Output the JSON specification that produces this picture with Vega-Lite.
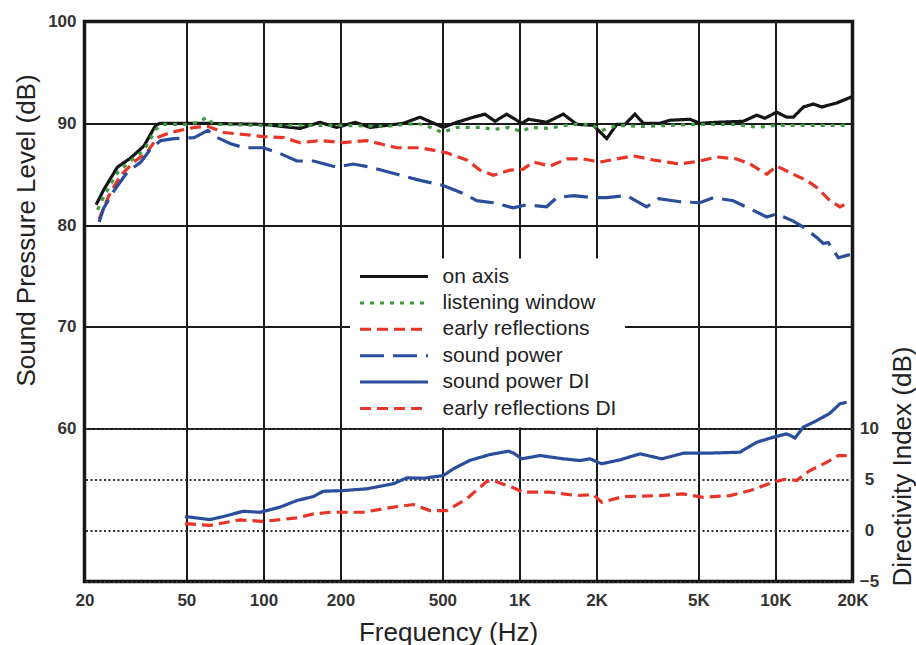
{
  "$schema": "https://vega.github.io/schema/vega-lite/v6.json",
  "width": 768,
  "height": 560,
  "autosize": {"type": "none"},
  "padding": {"left": 84.5, "top": 21.5, "right": 63.5, "bottom": 63.5},
  "background": "white",
  "config": {
    "font": "Liberation Sans",
    "view": {"stroke": "#111", "strokeWidth": 3.5},
    "axis": {"domain": false, "ticks": false, "tickSize": 0}
  },
  "datasets": {
    "spl": [
      {"series": "on axis", "freq": 22.2, "db": 82.0},
      {"series": "on axis", "freq": 23.8, "db": 83.5},
      {"series": "on axis", "freq": 26.9, "db": 85.7},
      {"series": "on axis", "freq": 30.3, "db": 86.6},
      {"series": "on axis", "freq": 34.2, "db": 87.8},
      {"series": "on axis", "freq": 37.9, "db": 89.8},
      {"series": "on axis", "freq": 39.4, "db": 90.0},
      {"series": "on axis", "freq": 49.4, "db": 90.0},
      {"series": "on axis", "freq": 59.1, "db": 90.0},
      {"series": "on axis", "freq": 99.6, "db": 89.9},
      {"series": "on axis", "freq": 139, "db": 89.5},
      {"series": "on axis", "freq": 166, "db": 90.1},
      {"series": "on axis", "freq": 193, "db": 89.6},
      {"series": "on axis", "freq": 228, "db": 90.1},
      {"series": "on axis", "freq": 261, "db": 89.6},
      {"series": "on axis", "freq": 352, "db": 90.0},
      {"series": "on axis", "freq": 409, "db": 90.6},
      {"series": "on axis", "freq": 504, "db": 89.6},
      {"series": "on axis", "freq": 569, "db": 90.1},
      {"series": "on axis", "freq": 661, "db": 90.6},
      {"series": "on axis", "freq": 733, "db": 90.9},
      {"series": "on axis", "freq": 803, "db": 90.2},
      {"series": "on axis", "freq": 891, "db": 90.9},
      {"series": "on axis", "freq": 1021, "db": 90.0},
      {"series": "on axis", "freq": 1084, "db": 90.4},
      {"series": "on axis", "freq": 1277, "db": 90.1},
      {"series": "on axis", "freq": 1483, "db": 90.9},
      {"series": "on axis", "freq": 1674, "db": 89.9},
      {"series": "on axis", "freq": 1944, "db": 89.8},
      {"series": "on axis", "freq": 2193, "db": 88.5},
      {"series": "on axis", "freq": 2400, "db": 89.9},
      {"series": "on axis", "freq": 2584, "db": 89.9},
      {"series": "on axis", "freq": 2826, "db": 90.9},
      {"series": "on axis", "freq": 3048, "db": 90.0},
      {"series": "on axis", "freq": 3540, "db": 90.0},
      {"series": "on axis", "freq": 3872, "db": 90.3},
      {"series": "on axis", "freq": 4634, "db": 90.4},
      {"series": "on axis", "freq": 5070, "db": 90.0},
      {"series": "on axis", "freq": 5902, "db": 90.1},
      {"series": "on axis", "freq": 7484, "db": 90.2},
      {"series": "on axis", "freq": 8450, "db": 90.8},
      {"series": "on axis", "freq": 9100, "db": 90.5},
      {"series": "on axis", "freq": 10116, "db": 91.1},
      {"series": "on axis", "freq": 11066, "db": 90.6},
      {"series": "on axis", "freq": 11744, "db": 90.6},
      {"series": "on axis", "freq": 12860, "db": 91.6},
      {"series": "on axis", "freq": 14060, "db": 91.9},
      {"series": "on axis", "freq": 15170, "db": 91.6},
      {"series": "on axis", "freq": 17340, "db": 92.0},
      {"series": "on axis", "freq": 19860, "db": 92.6},

      {"series": "listening window", "freq": 22.5, "db": 81.5},
      {"series": "listening window", "freq": 24, "db": 83.0},
      {"series": "listening window", "freq": 27, "db": 85.2},
      {"series": "listening window", "freq": 30.3, "db": 86.3},
      {"series": "listening window", "freq": 34.2, "db": 87.4},
      {"series": "listening window", "freq": 38, "db": 89.4},
      {"series": "listening window", "freq": 40, "db": 89.9},
      {"series": "listening window", "freq": 50, "db": 89.9},
      {"series": "listening window", "freq": 56, "db": 90.1},
      {"series": "listening window", "freq": 60, "db": 90.6},
      {"series": "listening window", "freq": 64, "db": 89.9},
      {"series": "listening window", "freq": 100, "db": 89.8},
      {"series": "listening window", "freq": 200, "db": 89.8},
      {"series": "listening window", "freq": 300, "db": 89.7},
      {"series": "listening window", "freq": 400, "db": 90.0},
      {"series": "listening window", "freq": 450, "db": 89.6},
      {"series": "listening window", "freq": 500, "db": 89.1},
      {"series": "listening window", "freq": 570, "db": 89.6},
      {"series": "listening window", "freq": 700, "db": 89.6},
      {"series": "listening window", "freq": 800, "db": 89.4},
      {"series": "listening window", "freq": 900, "db": 89.6},
      {"series": "listening window", "freq": 1020, "db": 89.2},
      {"series": "listening window", "freq": 1100, "db": 89.6},
      {"series": "listening window", "freq": 1300, "db": 89.5},
      {"series": "listening window", "freq": 1600, "db": 89.9},
      {"series": "listening window", "freq": 1900, "db": 89.9},
      {"series": "listening window", "freq": 2100, "db": 89.3},
      {"series": "listening window", "freq": 2400, "db": 89.8},
      {"series": "listening window", "freq": 3000, "db": 89.7},
      {"series": "listening window", "freq": 5000, "db": 89.9},
      {"series": "listening window", "freq": 7000, "db": 89.9},
      {"series": "listening window", "freq": 8500, "db": 89.6},
      {"series": "listening window", "freq": 10000, "db": 89.8},
      {"series": "listening window", "freq": 15000, "db": 89.8},
      {"series": "listening window", "freq": 19500, "db": 89.8},

      {"series": "early reflections", "freq": 22.8, "db": 80.6},
      {"series": "early reflections", "freq": 24.9, "db": 82.9},
      {"series": "early reflections", "freq": 27.7, "db": 84.9},
      {"series": "early reflections", "freq": 31.2, "db": 86.2},
      {"series": "early reflections", "freq": 35.2, "db": 87.2},
      {"series": "early reflections", "freq": 38.5, "db": 88.6},
      {"series": "early reflections", "freq": 43.4, "db": 89.1},
      {"series": "early reflections", "freq": 53.6, "db": 89.6},
      {"series": "early reflections", "freq": 60.7, "db": 89.7},
      {"series": "early reflections", "freq": 70.1, "db": 89.1},
      {"series": "early reflections", "freq": 84, "db": 88.9},
      {"series": "early reflections", "freq": 100, "db": 88.7},
      {"series": "early reflections", "freq": 120, "db": 88.6},
      {"series": "early reflections", "freq": 139, "db": 88.1},
      {"series": "early reflections", "freq": 166, "db": 88.3},
      {"series": "early reflections", "freq": 205, "db": 88.1},
      {"series": "early reflections", "freq": 253, "db": 88.3},
      {"series": "early reflections", "freq": 332, "db": 87.6},
      {"series": "early reflections", "freq": 409, "db": 87.6},
      {"series": "early reflections", "freq": 520, "db": 87.1},
      {"series": "early reflections", "freq": 622, "db": 86.4},
      {"series": "early reflections", "freq": 702, "db": 85.4},
      {"series": "early reflections", "freq": 790, "db": 84.9},
      {"series": "early reflections", "freq": 918, "db": 85.4},
      {"series": "early reflections", "freq": 1035, "db": 85.5},
      {"series": "early reflections", "freq": 1133, "db": 86.2},
      {"series": "early reflections", "freq": 1316, "db": 85.8},
      {"series": "early reflections", "freq": 1531, "db": 86.5},
      {"series": "early reflections", "freq": 1776, "db": 86.5},
      {"series": "early reflections", "freq": 2065, "db": 86.2},
      {"series": "early reflections", "freq": 2400, "db": 86.5},
      {"series": "early reflections", "freq": 2786, "db": 86.8},
      {"series": "early reflections", "freq": 3334, "db": 86.4},
      {"series": "early reflections", "freq": 4236, "db": 86.0},
      {"series": "early reflections", "freq": 5070, "db": 86.3},
      {"series": "early reflections", "freq": 5902, "db": 86.7},
      {"series": "early reflections", "freq": 7063, "db": 86.5},
      {"series": "early reflections", "freq": 7962, "db": 86.0},
      {"series": "early reflections", "freq": 9248, "db": 85.0},
      {"series": "early reflections", "freq": 10116, "db": 85.8},
      {"series": "early reflections", "freq": 11744, "db": 85.0},
      {"series": "early reflections", "freq": 13240, "db": 84.4},
      {"series": "early reflections", "freq": 14490, "db": 83.7},
      {"series": "early reflections", "freq": 16340, "db": 82.4},
      {"series": "early reflections", "freq": 17870, "db": 81.8},
      {"series": "early reflections", "freq": 19270, "db": 82.2},

      {"series": "sound power", "freq": 22.8, "db": 80.3},
      {"series": "sound power", "freq": 23.8, "db": 81.7},
      {"series": "sound power", "freq": 26.1, "db": 83.4},
      {"series": "sound power", "freq": 29.4, "db": 85.2},
      {"series": "sound power", "freq": 33.2, "db": 86.2},
      {"series": "sound power", "freq": 36.3, "db": 87.5},
      {"series": "sound power", "freq": 39.7, "db": 88.3},
      {"series": "sound power", "freq": 44.7, "db": 88.5},
      {"series": "sound power", "freq": 53.6, "db": 88.6},
      {"series": "sound power", "freq": 60.7, "db": 89.3},
      {"series": "sound power", "freq": 66, "db": 88.6},
      {"series": "sound power", "freq": 74.5, "db": 88.0},
      {"series": "sound power", "freq": 84, "db": 87.6},
      {"series": "sound power", "freq": 100, "db": 87.6},
      {"series": "sound power", "freq": 117, "db": 87.0},
      {"series": "sound power", "freq": 135, "db": 86.3},
      {"series": "sound power", "freq": 157, "db": 86.3},
      {"series": "sound power", "freq": 193, "db": 85.7},
      {"series": "sound power", "freq": 224, "db": 86.0},
      {"series": "sound power", "freq": 261, "db": 85.7},
      {"series": "sound power", "freq": 332, "db": 85.0},
      {"series": "sound power", "freq": 409, "db": 84.4},
      {"series": "sound power", "freq": 504, "db": 83.9},
      {"series": "sound power", "freq": 604, "db": 83.1},
      {"series": "sound power", "freq": 681, "db": 82.4},
      {"series": "sound power", "freq": 790, "db": 82.2},
      {"series": "sound power", "freq": 946, "db": 81.7},
      {"series": "sound power", "freq": 1068, "db": 82.0},
      {"series": "sound power", "freq": 1277, "db": 81.8},
      {"series": "sound power", "freq": 1399, "db": 82.7},
      {"series": "sound power", "freq": 1623, "db": 82.9},
      {"series": "sound power", "freq": 1944, "db": 82.7},
      {"series": "sound power", "freq": 2193, "db": 82.7},
      {"series": "sound power", "freq": 2624, "db": 82.9},
      {"series": "sound power", "freq": 3140, "db": 81.8},
      {"series": "sound power", "freq": 3500, "db": 82.6},
      {"series": "sound power", "freq": 4236, "db": 82.3},
      {"series": "sound power", "freq": 5070, "db": 82.2},
      {"series": "sound power", "freq": 5716, "db": 82.7},
      {"series": "sound power", "freq": 6840, "db": 82.4},
      {"series": "sound power", "freq": 7962, "db": 81.6},
      {"series": "sound power", "freq": 9248, "db": 80.8},
      {"series": "sound power", "freq": 10116, "db": 81.1},
      {"series": "sound power", "freq": 11744, "db": 80.4},
      {"series": "sound power", "freq": 12850, "db": 79.8},
      {"series": "sound power", "freq": 14490, "db": 78.8},
      {"series": "sound power", "freq": 15380, "db": 78.2},
      {"series": "sound power", "freq": 16080, "db": 78.3},
      {"series": "sound power", "freq": 17600, "db": 76.8},
      {"series": "sound power", "freq": 19540, "db": 77.1}
    ],
    "di": [
      {"series": "sound power DI", "freq": 49.4, "di": 1.38},
      {"series": "sound power DI", "freq": 61.8, "di": 1.08},
      {"series": "sound power DI", "freq": 69.7, "di": 1.38},
      {"series": "sound power DI", "freq": 83.4, "di": 1.9},
      {"series": "sound power DI", "freq": 97, "di": 1.8},
      {"series": "sound power DI", "freq": 116, "di": 2.3},
      {"series": "sound power DI", "freq": 135, "di": 2.95},
      {"series": "sound power DI", "freq": 157, "di": 3.35},
      {"series": "sound power DI", "freq": 171, "di": 3.86},
      {"series": "sound power DI", "freq": 205, "di": 3.93},
      {"series": "sound power DI", "freq": 253, "di": 4.1},
      {"series": "sound power DI", "freq": 322, "di": 4.6},
      {"series": "sound power DI", "freq": 363, "di": 5.18},
      {"series": "sound power DI", "freq": 421, "di": 5.14},
      {"series": "sound power DI", "freq": 504, "di": 5.4},
      {"series": "sound power DI", "freq": 552, "di": 6.07},
      {"series": "sound power DI", "freq": 641, "di": 6.9},
      {"series": "sound power DI", "freq": 767, "di": 7.47},
      {"series": "sound power DI", "freq": 905, "di": 7.8},
      {"series": "sound power DI", "freq": 950, "di": 7.6},
      {"series": "sound power DI", "freq": 1021, "di": 7.05},
      {"series": "sound power DI", "freq": 1203, "di": 7.37},
      {"series": "sound power DI", "freq": 1483, "di": 7.05},
      {"series": "sound power DI", "freq": 1724, "di": 6.88},
      {"series": "sound power DI", "freq": 1886, "di": 7.05},
      {"series": "sound power DI", "freq": 2094, "di": 6.56},
      {"series": "sound power DI", "freq": 2472, "di": 6.95},
      {"series": "sound power DI", "freq": 2960, "di": 7.54},
      {"series": "sound power DI", "freq": 3596, "di": 7.05},
      {"series": "sound power DI", "freq": 4366, "di": 7.6},
      {"series": "sound power DI", "freq": 5380, "di": 7.6},
      {"series": "sound power DI", "freq": 7270, "di": 7.7},
      {"series": "sound power DI", "freq": 8450, "di": 8.68},
      {"series": "sound power DI", "freq": 9810, "di": 9.17},
      {"series": "sound power DI", "freq": 11066, "di": 9.5},
      {"series": "sound power DI", "freq": 11930, "di": 9.1},
      {"series": "sound power DI", "freq": 12850, "di": 10.16},
      {"series": "sound power DI", "freq": 14490, "di": 10.8},
      {"series": "sound power DI", "freq": 16340, "di": 11.53},
      {"series": "sound power DI", "freq": 17870, "di": 12.46},
      {"series": "sound power DI", "freq": 18980, "di": 12.6},

      {"series": "early reflections DI", "freq": 49.4, "di": 0.68},
      {"series": "early reflections DI", "freq": 61.8, "di": 0.51},
      {"series": "early reflections DI", "freq": 81, "di": 1.05},
      {"series": "early reflections DI", "freq": 99.8, "di": 0.9},
      {"series": "early reflections DI", "freq": 135, "di": 1.25},
      {"series": "early reflections DI", "freq": 157, "di": 1.64},
      {"series": "early reflections DI", "freq": 182, "di": 1.8},
      {"series": "early reflections DI", "freq": 245, "di": 1.8},
      {"series": "early reflections DI", "freq": 322, "di": 2.3},
      {"series": "early reflections DI", "freq": 385, "di": 2.56},
      {"series": "early reflections DI", "freq": 447, "di": 1.97},
      {"series": "early reflections DI", "freq": 520, "di": 1.97},
      {"series": "early reflections DI", "freq": 622, "di": 3.12},
      {"series": "early reflections DI", "freq": 745, "di": 4.82},
      {"series": "early reflections DI", "freq": 790, "di": 4.92},
      {"series": "early reflections DI", "freq": 946, "di": 4.2},
      {"series": "early reflections DI", "freq": 1035, "di": 3.77},
      {"series": "early reflections DI", "freq": 1316, "di": 3.77},
      {"series": "early reflections DI", "freq": 1674, "di": 3.44},
      {"series": "early reflections DI", "freq": 1944, "di": 3.54},
      {"series": "early reflections DI", "freq": 2094, "di": 2.78},
      {"series": "early reflections DI", "freq": 2546, "di": 3.34},
      {"series": "early reflections DI", "freq": 3540, "di": 3.44},
      {"series": "early reflections DI", "freq": 4366, "di": 3.6},
      {"series": "early reflections DI", "freq": 5224, "di": 3.27},
      {"series": "early reflections DI", "freq": 6646, "di": 3.44},
      {"series": "early reflections DI", "freq": 7962, "di": 3.93},
      {"series": "early reflections DI", "freq": 9810, "di": 4.75},
      {"series": "early reflections DI", "freq": 11066, "di": 5.08},
      {"series": "early reflections DI", "freq": 12100, "di": 4.92},
      {"series": "early reflections DI", "freq": 13640, "di": 5.9},
      {"series": "early reflections DI", "freq": 15850, "di": 6.7},
      {"series": "early reflections DI", "freq": 17600, "di": 7.37},
      {"series": "early reflections DI", "freq": 18980, "di": 7.37}
    ]
  },
  "encoding": {
    "x": {
      "field": "freq",
      "type": "quantitative",
      "scale": {"type": "log", "domain": [20, 20000], "nice": false},
      "axis": {
        "values": [20, 50, 100, 200, 500, 1000, 2000, 5000, 10000, 20000],
        "labelExpr": "datum.value >= 1000 ? (datum.value / 1000) + 'K' : datum.value",
        "grid": true,
        "gridColor": "#1a1a1a",
        "gridWidth": 2,
        "gridOpacity": 1,
        "labelFont": "Liberation Sans",
        "labelFontSize": 17,
        "labelFontWeight": "bold",
        "labelColor": "#333",
        "labelBaseline": "middle",
        "labelPadding": 19,
        "labelFlush": false,
        "labelOverlap": false,
        "title": "Frequency (Hz)",
        "titleFont": "Liberation Sans",
        "titleFontSize": 26,
        "titleFontWeight": "normal",
        "titleColor": "#222",
        "titleBaseline": "middle",
        "titleX": 363.5,
        "titleY": 50.5
      }
    },
    "color": {
      "field": "series",
      "type": "nominal",
      "scale": {
        "domain": ["on axis", "listening window", "early reflections", "sound power", "sound power DI", "early reflections DI"],
        "range": ["#151515", "#3f9b3f", "#e8352a", "#2a4d9c", "#2a4d9c", "#e8352a"]
      },
      "legend": {
        "orient": "none",
        "legendX": 265.5,
        "legendY": 237,
        "title": null,
        "fillColor": "white",
        "padding": 8.5,
        "symbolType": "stroke",
        "symbolSize": 4624,
        "symbolStrokeWidth": 3,
        "clipHeight": 19,
        "rowPadding": 4.4,
        "labelFont": "Liberation Sans",
        "labelFontSize": 21,
        "labelColor": "#222",
        "labelOffset": 13,
        "labelLimit": 400
      }
    },
    "strokeDash": {
      "field": "series",
      "type": "nominal",
      "scale": {
        "domain": ["on axis", "listening window", "early reflections", "sound power", "sound power DI", "early reflections DI"],
        "range": [[1, 0], [4, 6], [11, 6], [24, 9], [1, 0], [11, 6]]
      },
      "legend": {
        "orient": "none",
        "legendX": 265.5,
        "legendY": 237,
        "title": null,
        "fillColor": "white",
        "padding": 8.5,
        "symbolType": "stroke",
        "symbolSize": 4624,
        "symbolStrokeWidth": 3,
        "clipHeight": 19,
        "rowPadding": 4.4,
        "labelFont": "Liberation Sans",
        "labelFontSize": 21,
        "labelColor": "#222",
        "labelOffset": 13,
        "labelLimit": 400
      }
    }
  },
  "layer": [
    {
      "data": {"name": "spl"},
      "mark": {"type": "line", "strokeWidth": 3.2, "clip": true},
      "encoding": {
        "y": {
          "field": "db",
          "type": "quantitative",
          "scale": {"domain": [45, 100], "nice": false, "zero": false},
          "axis": {
            "orient": "left",
            "values": [60, 70, 80, 90, 100],
            "grid": true,
            "gridColor": "#1a1a1a",
            "gridWidth": 2,
            "gridOpacity": 1,
            "labelFont": "Liberation Sans",
            "labelFontSize": 17,
            "labelFontWeight": "bold",
            "labelColor": "#333",
            "labelPadding": 8.5,
            "labelFlush": false,
            "labelOverlap": false,
            "title": "Sound Pressure Level (dB)",
            "titleFont": "Liberation Sans",
            "titleFontSize": 26,
            "titleFontWeight": "normal",
            "titleColor": "#222",
            "titleAngle": 270,
            "titleBaseline": "middle",
            "titleAlign": "center",
            "titleX": -58.5,
            "titleY": 208.5
          }
        }
      }
    },
    {
      "data": {"name": "di"},
      "mark": {"type": "line", "strokeWidth": 3.2, "clip": true},
      "encoding": {
        "y": {
          "field": "di",
          "type": "quantitative",
          "scale": {"domain": [-5, 50], "nice": false, "zero": false},
          "axis": {
            "orient": "right",
            "values": [-5, 0, 5, 10],
            "grid": true,
            "gridColor": "#333",
            "gridWidth": 2,
            "gridDash": [2, 2.5],
            "gridOpacity": 1,
            "labelFont": "Liberation Sans",
            "labelFontSize": 17,
            "labelFontWeight": "bold",
            "labelColor": "#333",
            "labelAlign": "center",
            "labelPadding": 16.5,
            "labelFlush": false,
            "labelOverlap": false,
            "title": "Directivity Index (dB)",
            "titleFont": "Liberation Sans",
            "titleFontSize": 26,
            "titleFontWeight": "normal",
            "titleColor": "#222",
            "titleAngle": 270,
            "titleBaseline": "middle",
            "titleAlign": "center",
            "titleX": 49.5,
            "titleY": 444.5
          }
        }
      }
    }
  ],
  "resolve": {"scale": {"y": "independent"}}
}
